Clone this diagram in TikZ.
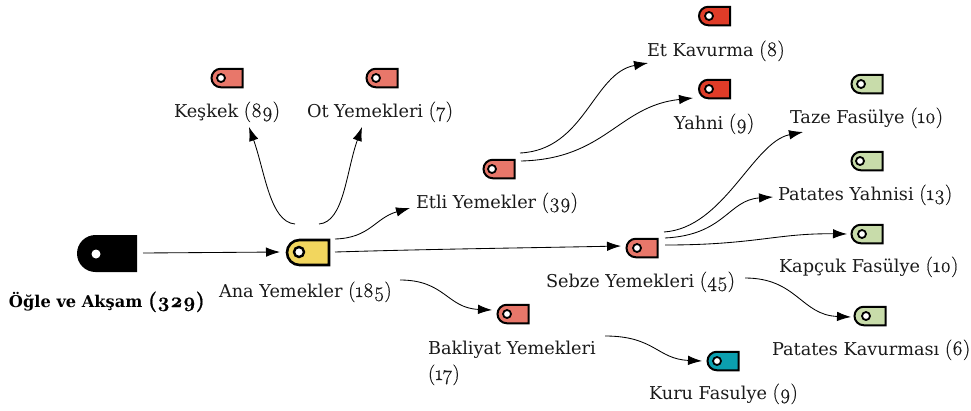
\documentclass[tikz,border=0pt]{standalone}
\usepackage{fontspec}
\setmainfont{DejaVu Serif}
\newfontfamily\osf{Latin Modern Roman}[Numbers=OldStyle,FakeBold=0.6]
\newcommand{\nm}[1]{{\osf\fontsize{20.5}{22}\selectfont #1}}
\newcommand{\nmb}[1]{{\osf\bfseries\fontsize{20.5}{22}\selectfont #1}}
\usetikzlibrary{shapes.misc,arrows.meta}
\definecolor{cyellow}{HTML}{F2D65E}
\definecolor{csalmon}{HTML}{E8776A}
\definecolor{cred}{HTML}{E03C28}
\definecolor{cgreen}{HTML}{C8DCAA}
\definecolor{cteal}{HTML}{0B9FAF}
\definecolor{ctext}{HTML}{1A1A1A}
\tikzset{
  x=1pt,y=-1pt,
  tagbase/.style={shape=rounded rectangle,rounded rectangle right arc=none,inner sep=0pt,outer sep=0pt,draw=black},
  smalltag/.style={tagbase,minimum width=31pt,minimum height=18.5pt,line width=2pt},
  bigtag/.style={tagbase,minimum width=42pt,minimum height=25pt,line width=2.6pt},
  roottag/.style={tagbase,draw=none,minimum width=60pt,minimum height=37pt,fill=black},
  holesmall/.style={circle,fill=white,draw=black,line width=1.8pt,minimum size=8pt,inner sep=0pt},
  holebig/.style={circle,fill=white,draw=black,line width=2.4pt,minimum size=10pt,inner sep=0pt},
  holeroot/.style={circle,fill=white,minimum size=9pt,inner sep=0pt},
  lab/.style={anchor=base west,inner sep=0pt,outer sep=0pt,text=ctext,font=\fontsize{17.7}{20}\selectfont},
  labb/.style={lab,text=black,font=\bfseries\fontsize{16.2}{20}\selectfont},
  conn/.style={draw=black,line width=0.85pt,-{Latex[length=14pt,width=9.5pt]}},
}
\begin{document}
\begin{tikzpicture}
\useasboundingbox (0,0) rectangle (971,410);
% tags
\node[roottag] (root) at (107,253.5) {};
\node[holeroot] (rooth) at (96,254) {};
\node[bigtag,fill=cyellow] (ana) at (308,252.5) {};
\node[holebig] (anah) at (299,252) {};
\foreach \n/\cx/\cy/\hx/\hy/\c in {
  keskek/227/78/221/78/csalmon,
  ot/382/78/376/78/csalmon,
  et/714.5/16/709/16/cred,
  yahni/714.5/89/709/89/cred,
  etli/499/169/492/169/csalmon,
  taze/867/84/861/84/cgreen,
  patyah/867/161/860/161/cgreen,
  sebze/642/248/637/248/csalmon,
  kapcuk/867/234/862/234/cgreen,
  patkav/870/316/866/316/cgreen,
  bakliyat/513/314/507/314/csalmon,
  kuru/723/361/717/361/cteal}{
  \node[smalltag,fill=\c] (\n) at (\cx,\cy) {};
  \node[holesmall] (\n h) at (\hx,\hy) {};
}
% labels
\node[labb] (lroot) at (9,307) {Öğle ve Akşam \nmb{(329)}};
\node[lab] (lana) at (219,297) {Ana Yemekler \nm{(185)}};
\node[lab] (lkeskek) at (174,117) {Keşkek \nm{(89)}};
\node[lab] (lot) at (307,117) {Ot Yemekleri \nm{(7)}};
\node[lab] (letli) at (416,208) {Etli Yemekler \nm{(39)}};
\node[lab] (let) at (647,56) {Et Kavurma \nm{(8)}};
\node[lab] (lyahni) at (674,129) {Yahni \nm{(9)}};
\node[lab] (ltaze) at (790,123) {Taze Fasülye \nm{(10)}};
\node[lab] (lpatyah) at (778,200) {Patates Yahnisi \nm{(13)}};
\node[lab] (lkapcuk) at (779,272) {Kapçuk Fasülye \nm{(10)}};
\node[lab] (lsebze) at (546,287) {Sebze Yemekleri \nm{(45)}};
\node[lab] (lpatkav) at (772,355) {Patates Kavurması \nm{(6)}};
\node[lab] (lbak) at (428,354) {Bakliyat Yemekleri};
\node[lab] (lbak2) at (428,380) {\nm{(17)}};
\node[lab] (lkuru) at (649,399) {Kuru Fasulye \nm{(9)}};
% connector ends
\coordinate (s1) at (143,253); \coordinate (t1) at (280,252);
\coordinate (s2) at (295,224); \coordinate (t2) at (249,127);
\coordinate (s3) at (319,224); \coordinate (t3) at (362,127);
\coordinate (s4) at (335,239); \coordinate (t4) at (410,208);
\coordinate (s5) at (335,252); \coordinate (t5) at (621,246);
\coordinate (s6) at (400,280); \coordinate (t6) at (492,310);
\coordinate (s7) at (520,153); \coordinate (t7) at (648,63);
\coordinate (s8) at (521,161); \coordinate (t8) at (693,98);
\coordinate (s9) at (664,232); \coordinate (t9) at (803,132);
\coordinate (s10) at (665,238); \coordinate (t10) at (773,197);
\coordinate (s11) at (665,245); \coordinate (t11) at (847,234);
\coordinate (s12) at (745,278); \coordinate (t12) at (851,317);
\coordinate (s13) at (605,336); \coordinate (t13) at (702,361);
% connectors
\draw[conn] (s1) -- (t1);
\draw[conn] (s2) .. controls +(-25,-2) and +(16,45) .. (t2);
\draw[conn] (s3) .. controls +(25,-2) and +(-16,45) .. (t3);
\draw[conn] (s4) .. controls +(35,-1) and +(-35,10) .. (t4);
\draw[conn] (s5) .. controls +(100,-3) and +(-100,2) .. (t5);
\draw[conn] (s6) .. controls +(45,0) and +(-45,-2) .. (t6);
\draw[conn] (s7) .. controls +(65,-3) and +(-55,10) .. (t7);
\draw[conn] (s8) .. controls +(85,-2) and +(-75,8) .. (t8);
\draw[conn] (s9) .. controls +(60,-4) and +(-50,10) .. (t9);
\draw[conn] (s10) .. controls +(60,-3) and +(-45,3) .. (t10);
\draw[conn] (s11) .. controls +(90,0) and +(-70,-1) .. (t11);
\draw[conn] (s12) .. controls +(52,0) and +(-50,-2) .. (t12);
\draw[conn] (s13) .. controls +(50,0) and +(-45,-2) .. (t13);
\end{tikzpicture}
\end{document}
